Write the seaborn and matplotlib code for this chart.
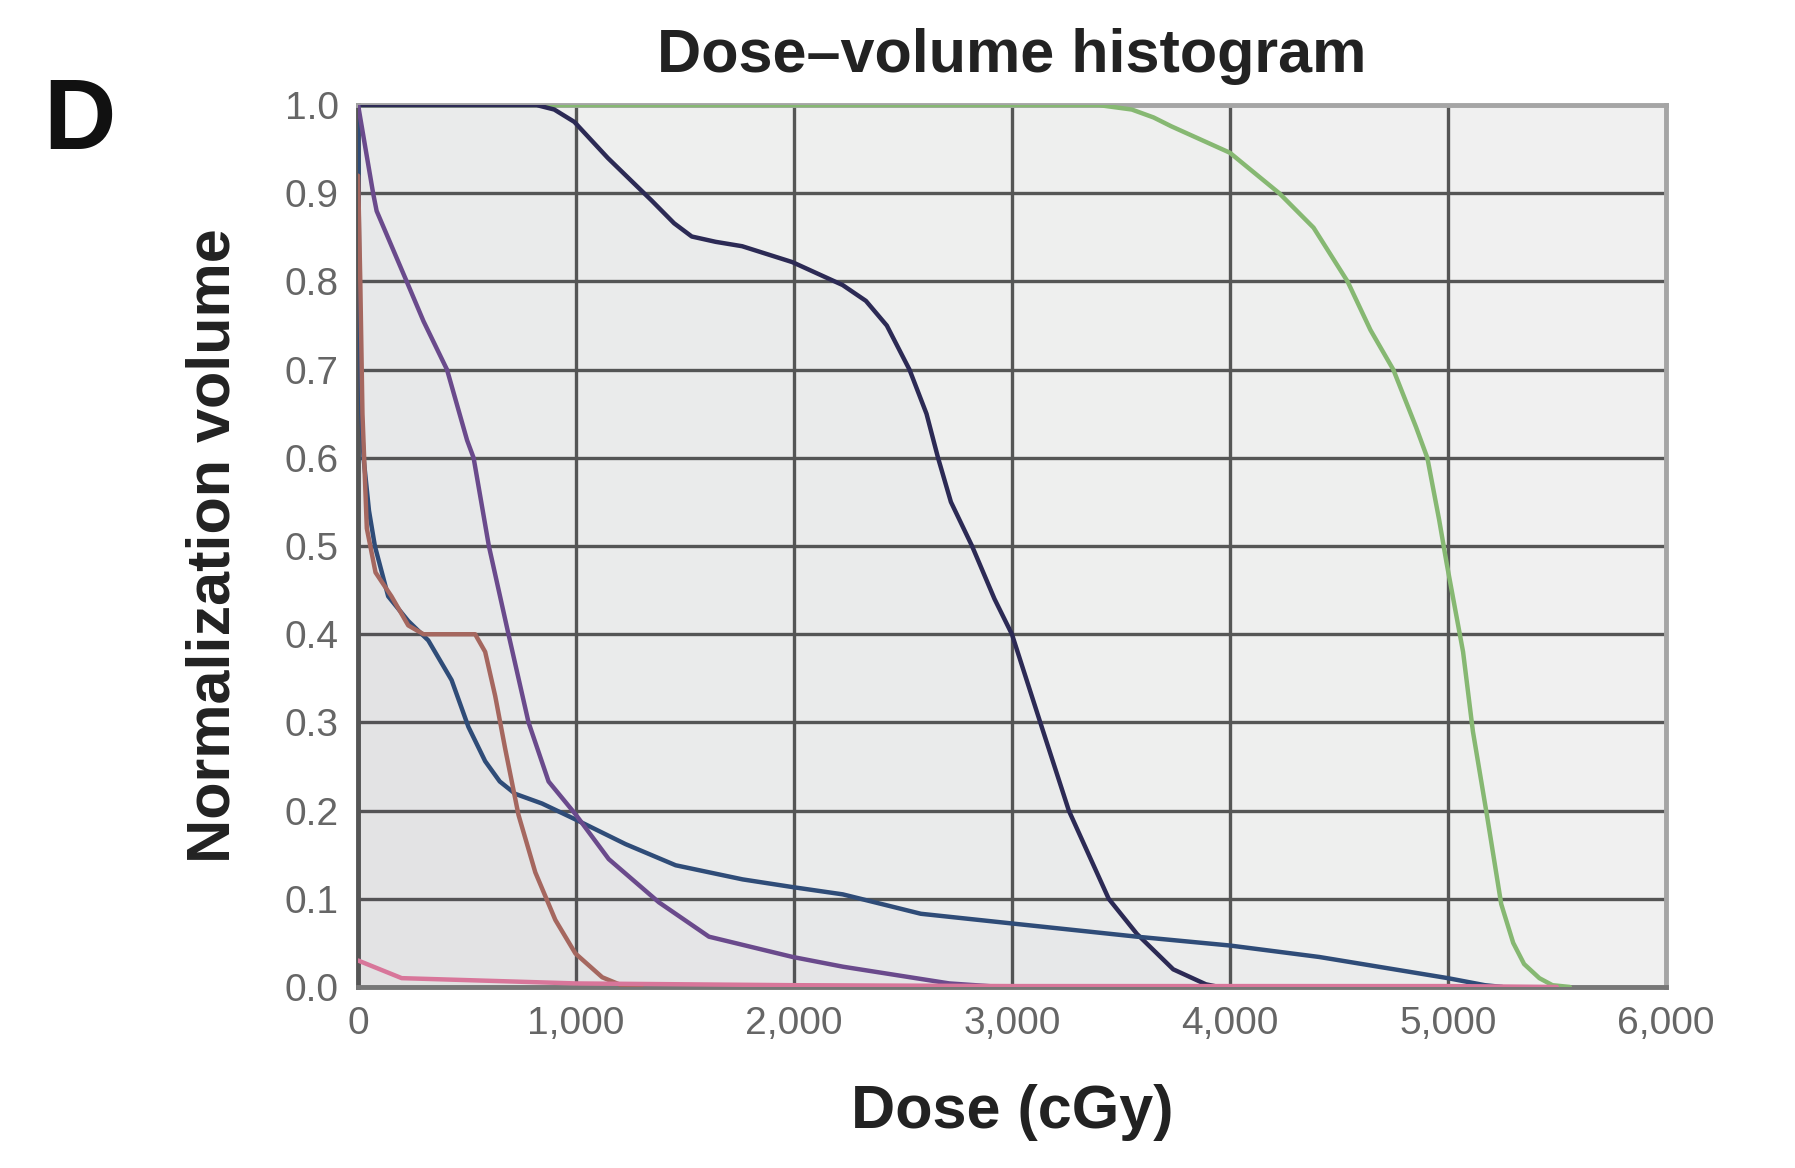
import numpy as np
import pandas as pd
import seaborn as sns
import matplotlib.pyplot as plt

# DVH curves (dose in cGy, normalized volume)
ptv_dose = [0, 3400, 3550, 3650, 3731, 4000, 4227, 4384, 4540, 4645, 4750, 4854, 4906,
            4960, 4995, 5040, 5070, 5115, 5180, 5245, 5300, 5350, 5420, 5480, 5560]
ptv_vol = [1.0, 1.0, 0.995, 0.986, 0.976, 0.946, 0.9, 0.861, 0.8, 0.745, 0.7, 0.635, 0.6,
           0.53, 0.48, 0.42, 0.38, 0.29, 0.194, 0.094, 0.05, 0.026, 0.01, 0.002, 0.0]

navy_dose = [0, 820, 900, 992, 1146, 1346, 1450, 1531, 1640, 1762, 1992, 2223, 2330,
             2426, 2530, 2608, 2661, 2720, 2817, 2920, 3000, 3130, 3261, 3444, 3574,
             3740, 3890, 3950]
navy_vol = [1.0, 1.0, 0.995, 0.981, 0.94, 0.892, 0.866, 0.851, 0.845, 0.840, 0.822,
            0.796, 0.778, 0.75, 0.70, 0.65, 0.60, 0.55, 0.50, 0.44, 0.40, 0.30, 0.20,
            0.10, 0.06, 0.02, 0.003, 0.0]

blue_dose = [0, 5, 15, 25, 50, 77, 138, 230, 322, 429, 506, 583, 650, 721, 844, 997, 1227,
             1457, 1764, 2000, 2224, 2582, 3000, 3574, 4000, 4410, 5000, 5170, 5250]
blue_vol = [1.0, 0.8, 0.65, 0.6, 0.54, 0.5, 0.443, 0.415, 0.393, 0.348, 0.295, 0.256,
            0.233, 0.219, 0.208, 0.19, 0.162, 0.138, 0.122, 0.113, 0.105, 0.083, 0.072,
            0.057, 0.047, 0.034, 0.01, 0.002, 0.0]

purple_dose = [0, 69, 85, 223, 300, 408, 500, 530, 600, 690, 782, 874, 997, 1150, 1380,
               1610, 1994, 2224, 2713, 2950]
purple_vol = [1.0, 0.9, 0.88, 0.80, 0.755, 0.70, 0.62, 0.60, 0.5, 0.4, 0.3, 0.233, 0.196,
              0.145, 0.096, 0.057, 0.034, 0.023, 0.004, 0.0]

orange_dose = [0, 10, 20, 40, 80, 153, 230, 300, 537, 583, 629, 675, 736, 813, 905, 997,
               1120, 1227, 1300]
orange_vol = [0.92, 0.8, 0.65, 0.52, 0.47, 0.443, 0.41, 0.40, 0.40, 0.38, 0.33, 0.27,
              0.195, 0.13, 0.076, 0.038, 0.011, 0.0, 0.0]

pink_dose = [0, 200, 1000, 2000, 3000, 4000, 5000, 5500]
pink_vol = [0.03, 0.01, 0.004, 0.002, 0.001, 0.001, 0.001, 0.0]

x_ticks = [0, 1000, 2000, 3000, 4000, 5000, 6000]
x_labels = ['0', '1,000', '2,000', '3,000', '4,000', '5,000', '6,000']
y_ticks = [0.0, 0.1, 0.2, 0.3, 0.4, 0.5, 0.6, 0.7, 0.8, 0.9, 1.0]

series = {
    'PTV': (ptv_dose, ptv_vol),
    'navy': (navy_dose, navy_vol),
    'blue': (blue_dose, blue_vol),
    'purple': (purple_dose, purple_vol),
    'orange': (orange_dose, orange_vol),
    'pink': (pink_dose, pink_vol),
}
colors = {'PTV': '#86b872', 'navy': '#2c2a55', 'blue': '#2f4c78',
          'purple': '#6a4a8c', 'orange': '#a5675f', 'pink': '#d8769a'}

dvh = pd.concat([pd.DataFrame({'dose': d, 'volume': v, 'structure': k})
                 for k, (d, v) in series.items()], ignore_index=True)

sns.set_style('white')
plt.rcParams['font.family'] = ['Liberation Sans', 'DejaVu Sans']

fig = plt.figure(figsize=(17.95, 11.68), dpi=100)
ax = fig.add_axes([0.1995, 0.155, 0.7285, 0.755])
ax.set_facecolor('#f0f0f0')

# faint tint under each curve like the original export
for k, (d, v) in series.items():
    ax.fill_between(d, v, 0, color=colors[k], alpha=0.015, lw=0, zorder=1)

sns.lineplot(data=dvh, x='dose', y='volume', hue='structure', palette=colors,
             estimator=None, sort=False, linewidth=3.2, legend=False, ax=ax, zorder=3)

ax.set_xlim(0, 6000)
ax.set_ylim(0, 1.0)
ax.set_xticks(x_ticks, labels=x_labels)
ax.set_yticks(y_ticks, labels=[f'{t:.1f}' for t in y_ticks])
ax.grid(True, color='#555555', linewidth=2.4, zorder=2)
ax.set_axisbelow(True)
for s in ax.spines.values():
    s.set_color('#a5a5a5')
    s.set_linewidth(3.5)
ax.spines['left'].set_color('#555555')
ax.spines['bottom'].set_color('#777777')

ax.tick_params(axis='both', length=0, labelsize=28, labelcolor='#666666', pad=14)

ax.set_xlabel('Dose (cGy)', fontsize=44, fontweight='bold', color='#222222', labelpad=30)
ax.set_ylabel('Normalization volume', fontsize=44, fontweight='bold', color='#222222', labelpad=30)
ax.set_title('Dose\u2013volume histogram', fontsize=44, fontweight='bold', color='#222222', pad=24)
fig.text(0.024, 0.895, 'D', fontsize=72, fontweight='bold', color='#111111', va='center')

fig.savefig('out.png', dpi=100)
